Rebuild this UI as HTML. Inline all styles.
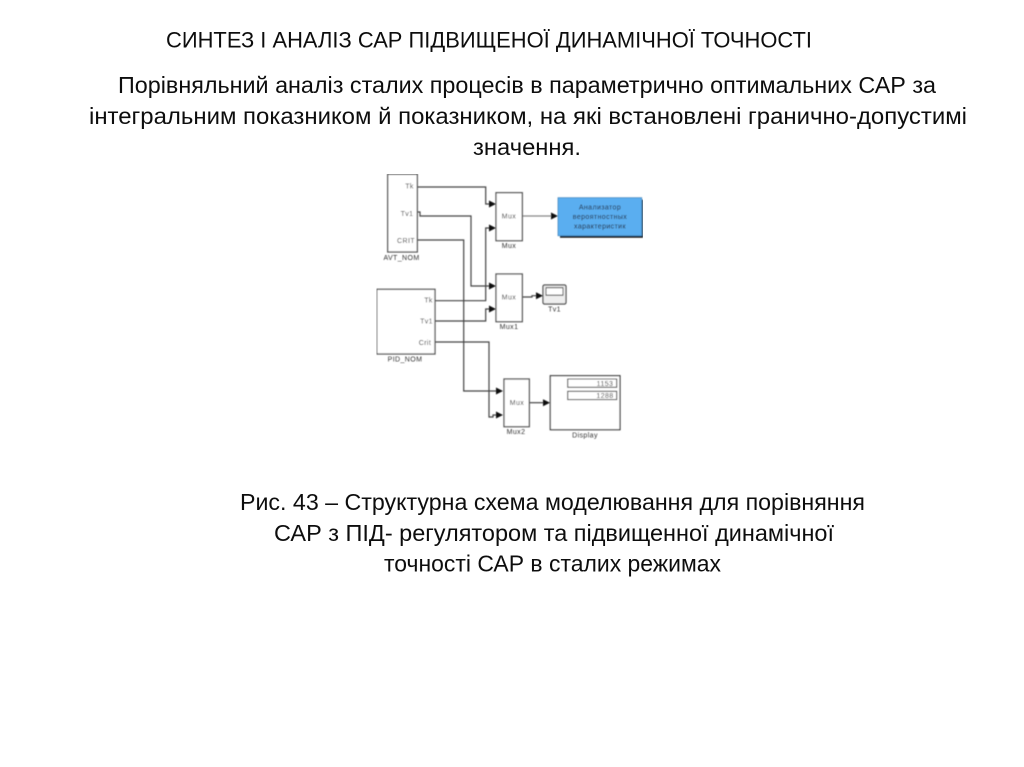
<!DOCTYPE html>
<html lang="uk">
<head>
<meta charset="utf-8">
<title>Синтез і аналіз САР</title>
<style>
html,body{margin:0;padding:0;background:#fff;width:1024px;height:767px;overflow:hidden}
svg{display:block}
.t{font-family:"Liberation Sans",sans-serif;fill:#111}
.d{font-family:"Liberation Sans",sans-serif;fill:#333;font-size:7px;text-anchor:middle;letter-spacing:.4px}
.b{fill:#fff;stroke:#555;stroke-width:1.3}
.l{fill:none;stroke:#444;stroke-width:1.2}
.a{fill:#111}
</style>
</head>
<body>
<svg width="1024" height="767" viewBox="0 0 1024 767" xmlns="http://www.w3.org/2000/svg">
<defs>
<filter id="s" x="0" y="0" width="100%" height="100%"><feGaussianBlur stdDeviation="0.45"/></filter>
<filter id="f" x="0" y="0" width="100%" height="100%"><feGaussianBlur stdDeviation="0.25"/></filter>
</defs>
<rect width="1024" height="767" fill="#fff"/>

<g filter="url(#f)">
<text class="t" x="166" y="47.500" font-size="22.500" textLength="646" lengthAdjust="spacingAndGlyphs">СИНТЕЗ І АНАЛІЗ САР ПІДВИЩЕНОЇ ДИНАМІЧНОЇ ТОЧНОСТІ</text>
<text class="t" x="118" y="93" font-size="23" textLength="818" lengthAdjust="spacingAndGlyphs">Порівняльний аналіз сталих процесів в параметрично оптимальних САР за</text>
<text class="t" x="89" y="124" font-size="23" textLength="878" lengthAdjust="spacingAndGlyphs">інтегральним показником й показником, на які встановлені гранично-допустимі</text>
<text class="t" x="473" y="155" font-size="23" textLength="108" lengthAdjust="spacingAndGlyphs">значення.</text>
<text class="t" x="240" y="510" font-size="23" textLength="625" lengthAdjust="spacingAndGlyphs">Рис. 43 – Структурна схема моделювання для порівняння</text>
<text class="t" x="274" y="541" font-size="23" textLength="560" lengthAdjust="spacingAndGlyphs">САР з ПІД- регулятором та підвищенної динамічної</text>
<text class="t" x="384" y="571.500" font-size="23" textLength="337" lengthAdjust="spacingAndGlyphs">точності САР в сталих режимах</text>
</g>

<g filter="url(#s)">
  <!-- connectors -->
  <path class="l" d="M417 187H485.700V204H490"/>
  <path class="l" d="M417 212H420V216H471V286H490"/>
  <path class="l" d="M417 240H463.700V391H497"/>
  <path class="l" d="M435 300.700H485.700V228H490"/>
  <path class="l" d="M435 321H485.700V309H490" stroke-width="1.500"/>
  <path class="l" d="M435 342H489V417H493V415H497"/>
  <path class="l" d="M522 216H552" style="stroke:#888"/>
  <path class="l" d="M522 297H532V295.700H537"/>
  <path class="l" d="M529 402.700H544" stroke-width="1.700"/>
  <!-- arrowheads -->
  <path class="a" d="M489 200.500L496 204L489 207.500Z"/>
  <path class="a" d="M489 224.500L496 228L489 231.500Z"/>
  <path class="a" d="M489 282.500L496 286L489 289.500Z"/>
  <path class="a" d="M489 305.500L496 309L489 312.500Z"/>
  <path class="a" d="M496 387.500L503 391L496 394.500Z"/>
  <path class="a" d="M496 411.500L503 415L496 418.500Z"/>
  <path class="a" d="M551 212.500L558 216L551 219.500Z"/>
  <path class="a" d="M536 292.200L543 295.700L536 299.200Z"/>
  <path class="a" d="M543 399.200L550 402.700L543 406.200Z"/>

  <!-- AVT_NOM -->
  <rect class="b" x="387.700" y="174.300" width="29.600" height="77.700"/>
  <text class="d" x="409.500" y="188.500">Tk</text>
  <text class="d" x="407" y="216">Tv1</text>
  <text class="d" x="406" y="243">CRIT</text>
  <text class="d" x="401.500" y="260">AVT_NOM</text>

  <!-- PID_NOM -->
  <rect class="b" x="376.700" y="289.300" width="58.300" height="64.700"/>
  <text class="d" x="428.500" y="302.500">Tk</text>
  <text class="d" x="426.500" y="323.500">Tv1</text>
  <text class="d" x="425" y="345">Crit</text>
  <text class="d" x="405" y="361.500">PID_NOM</text>

  <!-- Mux -->
  <rect class="b" x="496" y="192.700" width="26.300" height="48"/>
  <text class="d" x="509" y="218.500">Mux</text>
  <text class="d" x="509" y="248">Mux</text>

  <!-- Mux1 -->
  <rect class="b" x="496" y="274" width="26.300" height="47.700"/>
  <text class="d" x="509" y="299.500">Mux</text>
  <text class="d" x="509" y="329">Mux1</text>

  <!-- Mux2 -->
  <rect class="b" x="504" y="379" width="25.300" height="47.700"/>
  <text class="d" x="517" y="405">Mux</text>
  <text class="d" x="516" y="434">Mux2</text>

  <!-- Analyzer -->
  <rect x="560" y="199.700" width="83" height="38" fill="#111"/>
  <rect x="558" y="197.700" width="83.700" height="38" fill="#5aaef0" stroke="#4a8ac0" stroke-width="0.800"/>
  <text class="d" x="600" y="209.500" style="fill:#223">Анализатор</text>
  <text class="d" x="600" y="219" style="fill:#223">вероятностных</text>
  <text class="d" x="600" y="228.500" style="fill:#223">характеристик</text>

  <!-- Scope -->
  <rect x="543" y="285" width="23" height="19" rx="1.500" fill="#eee" stroke="#444" stroke-width="1.200"/>
  <rect x="546" y="287.700" width="17" height="7.500" fill="#fff" stroke="#444" stroke-width="1"/>
  <text class="d" x="554.500" y="311.500">Tv1</text>

  <!-- Display -->
  <rect x="550.300" y="375.700" width="69.700" height="54" fill="#fff" stroke="#333" stroke-width="1.200"/>
  <rect x="567.700" y="379" width="49" height="8.300" fill="#fff" stroke="#444" stroke-width="1"/>
  <rect x="567.700" y="391.300" width="49" height="8.300" fill="#fff" stroke="#444" stroke-width="1"/>
  <text class="d" x="605" y="386">1153</text>
  <text class="d" x="605" y="398">1288</text>
  <text class="d" x="585" y="437.500">Display</text>
</g>
</svg>
</body>
</html>
